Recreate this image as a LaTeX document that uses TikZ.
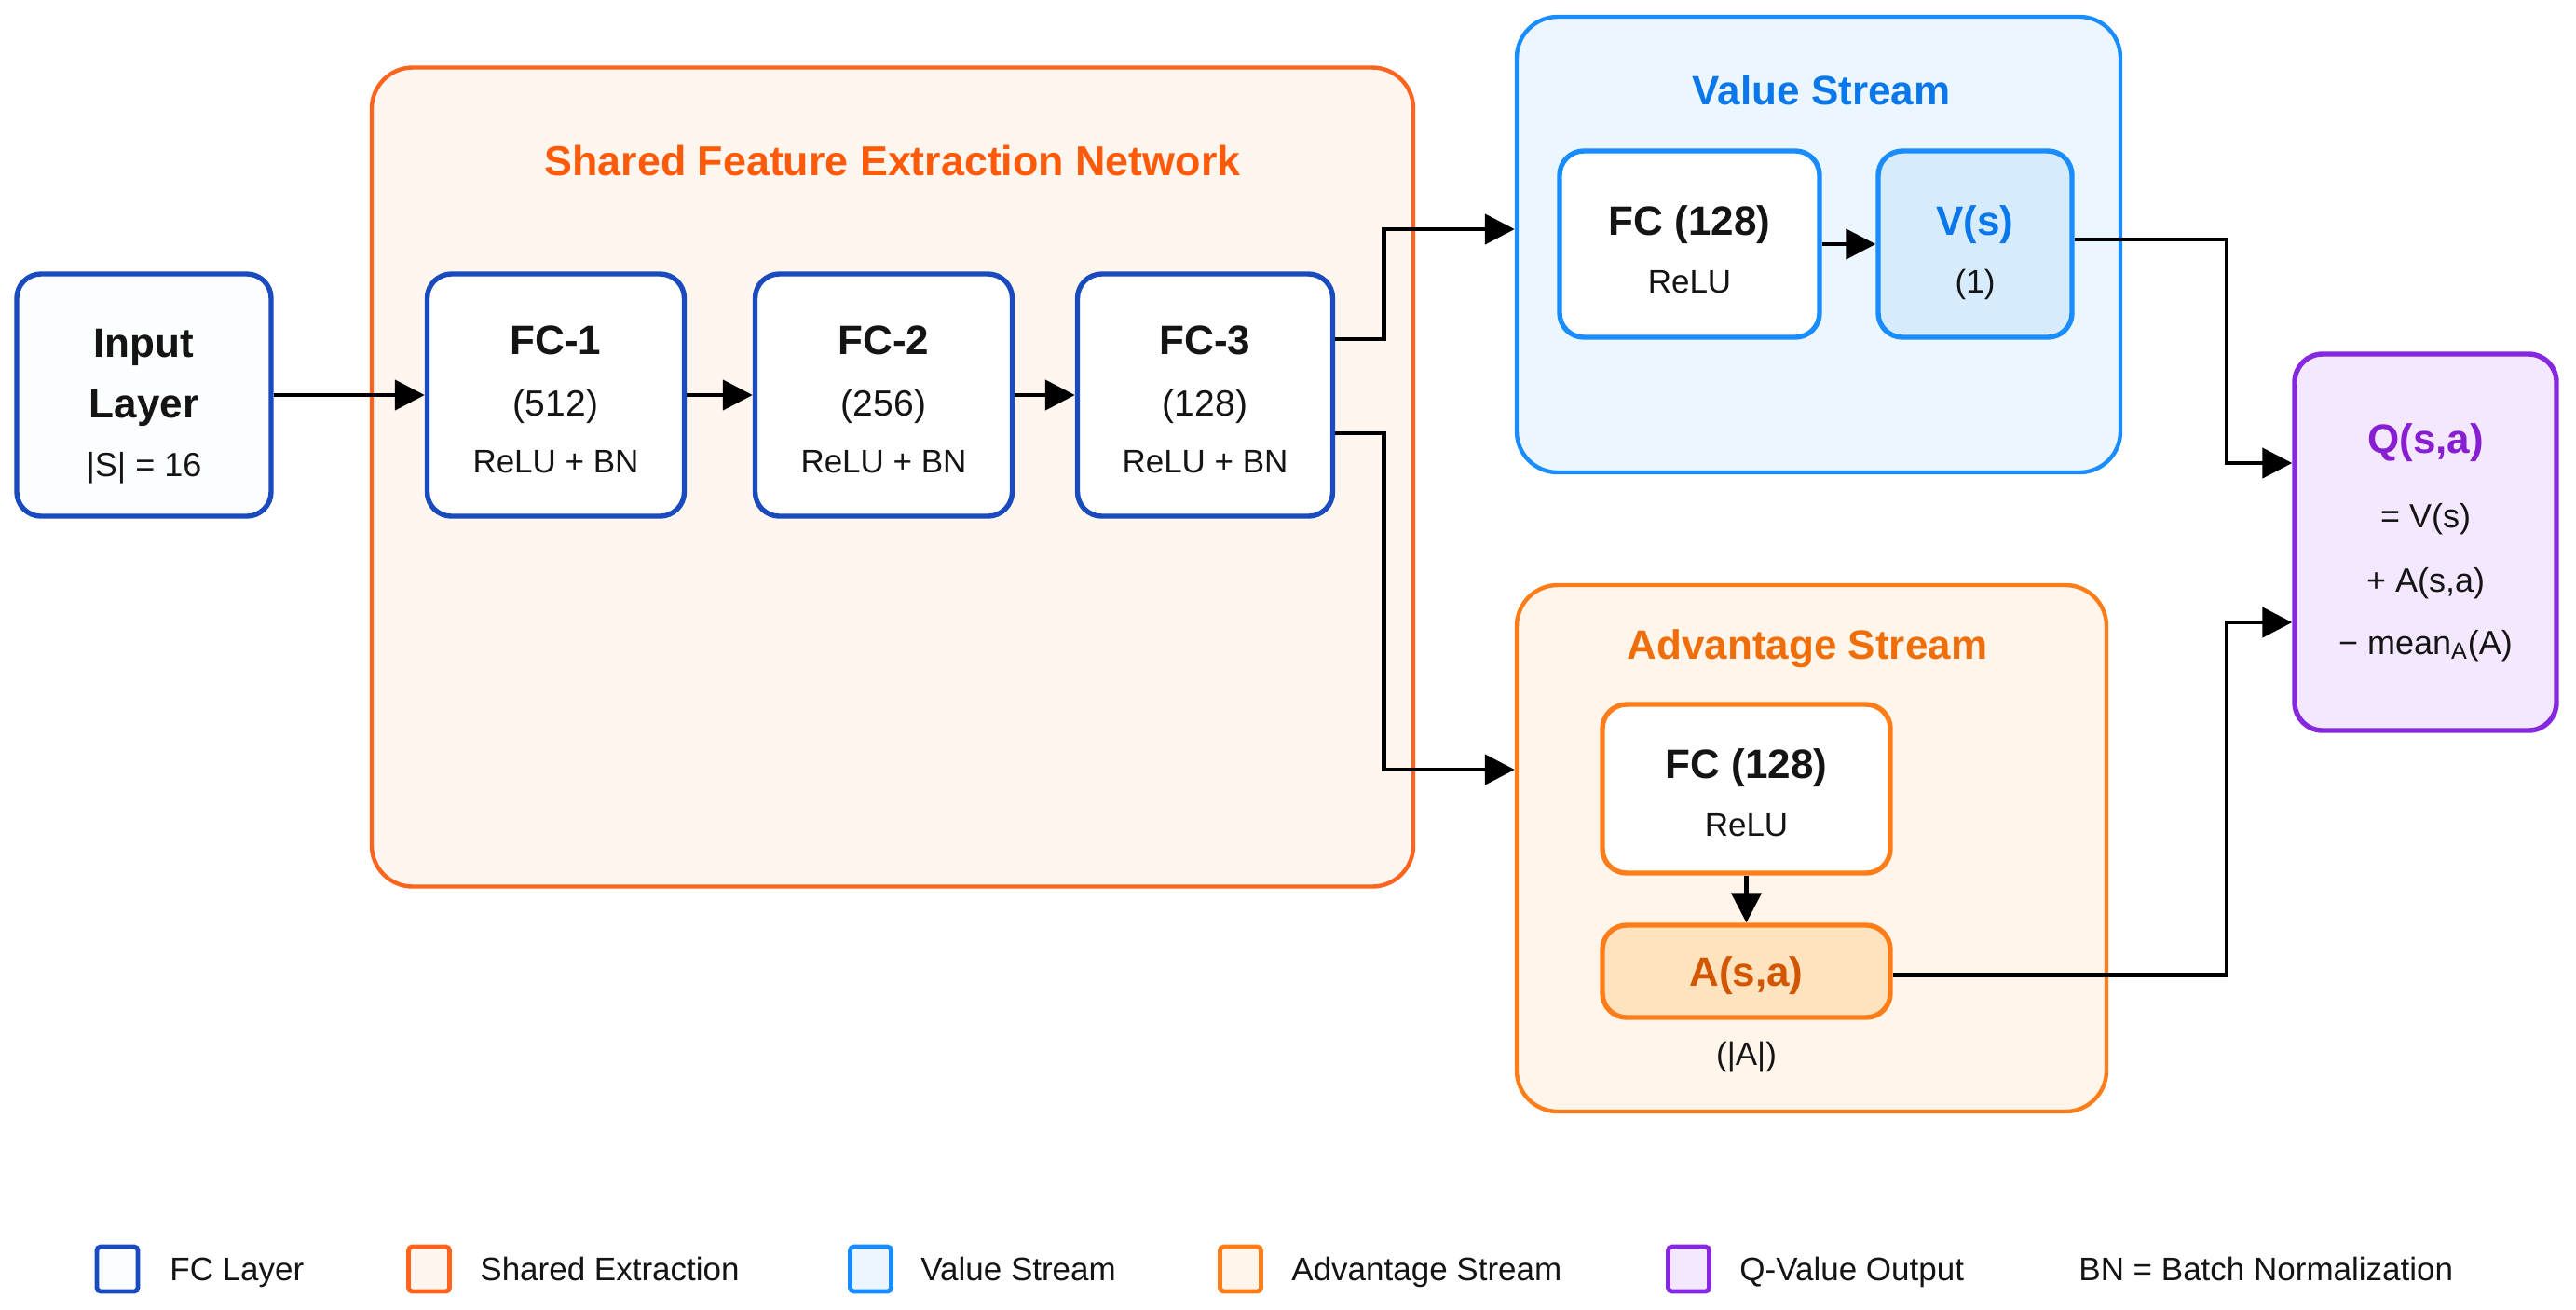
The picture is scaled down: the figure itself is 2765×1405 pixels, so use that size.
\documentclass[tikz,border=0pt]{standalone}
\usepackage{fontspec}
\setmainfont{Liberation Sans}
\usetikzlibrary{arrows.meta}
\definecolor{fcblue}{RGB}{25,75,190}
\definecolor{txt}{RGB}{20,20,20}
\definecolor{shor}{RGB}{255,100,30}
\definecolor{shfill}{RGB}{255,246,240}
\definecolor{shtitle}{RGB}{255,90,10}
\definecolor{vblue}{RGB}{25,140,255}
\definecolor{vfill}{RGB}{236,246,255}
\definecolor{vtitle}{RGB}{10,120,235}
\definecolor{vsfill}{RGB}{214,236,252}
\definecolor{aor}{RGB}{255,125,25}
\definecolor{afill}{RGB}{255,245,235}
\definecolor{atitle}{RGB}{240,110,10}
\definecolor{aafill}{RGB}{255,226,190}
\definecolor{aatext}{RGB}{210,85,0}
\definecolor{qpur}{RGB}{135,40,225}
\definecolor{qfill}{RGB}{243,232,255}
\definecolor{qtext}{RGB}{135,30,210}
\definecolor{infill}{RGB}{252,253,255}
\begin{document}
\begin{tikzpicture}[x=0.5pt,y=-0.5pt,
  container/.style={draw, line width=2.2pt, rounded corners=22pt, inner sep=0pt},
  box/.style={draw, line width=2.7pt, rounded corners=13pt, inner sep=0pt},
  bt/.style={font=\fontsize{22}{26}\selectfont\bfseries, anchor=base, inner sep=0pt, text=txt},
  nt/.style={font=\fontsize{19.5}{23}\selectfont, anchor=base, inner sep=0pt, text=txt},
  rt/.style={font=\fontsize{17.5}{21}\selectfont, anchor=base, inner sep=0pt, text=txt},
  arr/.style={line width=2.3pt, draw=black, -{Triangle[length=16pt,width=16pt]}},
  legsq/.style={draw, line width=2.4pt, rounded corners=2pt, minimum width=22pt, minimum height=24pt, inner sep=0pt}
]
\useasboundingbox (0,0) rectangle (2765,1405);
\fill[white] (0,0) rectangle (2765,1405);

% containers
\node[container, draw=shor, fill=shfill, minimum width=559pt, minimum height=439.5pt] (shared) at (958,512) {};
\node[bt, text=shtitle, font=\fontsize{22.4}{26}\selectfont\bfseries] (sharedt) at (958,188) {Shared Feature Extraction Network};

\node[container, draw=vblue, fill=vfill, minimum width=324pt, minimum height=244.5pt] (vbox) at (1952,262.5) {};
\node[bt, text=vtitle] (vboxt) at (1955,112) {Value Stream};

\node[container, draw=aor, fill=afill, minimum width=316.5pt, minimum height=282.5pt] (abox) at (1944.5,910.5) {};
\node[bt, text=atitle] (aboxt) at (1940,707) {Advantage Stream};

% input
\node[box, draw=fcblue, fill=infill, minimum width=136.5pt, minimum height=130pt] (inp) at (154.5,424) {};
\node[bt] (inp1) at (154.5,383) {Input};
\node[bt] (inp2) at (154.5,448) {Layer};
\node[rt, font=\fontsize{18}{21}\selectfont] (inp3) at (154.5,511) {|S| = 16};

% FC layers
\node[box, draw=fcblue, fill=white, minimum width=138pt, minimum height=130pt] (fc1) at (596.5,424) {};
\node[bt] (fc1a) at (596.5,380) {FC-1};
\node[nt] (fc1b) at (596.5,446) {(512)};
\node[rt] (fc1c) at (596.5,507.5) {ReLU + BN};

\node[box, draw=fcblue, fill=white, minimum width=138pt, minimum height=130pt] (fc2) at (948.5,424) {};
\node[bt] (fc2a) at (948.5,380) {FC-2};
\node[nt] (fc2b) at (948.5,446) {(256)};
\node[rt] (fc2c) at (948.5,507.5) {ReLU + BN};

\node[box, draw=fcblue, fill=white, minimum width=137pt, minimum height=130pt] (fc3) at (1293.5,424) {};
\node[bt] (fc3a) at (1293.5,380) {FC-3};
\node[nt] (fc3b) at (1293.5,446) {(128)};
\node[rt] (fc3c) at (1293.5,507.5) {ReLU + BN};

% value stream
\node[box, draw=vblue, fill=white, minimum width=139.5pt, minimum height=100pt] (vfc) at (1813.5,262) {};
\node[bt] (vfca) at (1813.5,252) {FC (128)};
\node[rt] (vfcb) at (1813.5,314.5) {ReLU};

\node[box, draw=vblue, fill=vsfill, minimum width=104pt, minimum height=100pt] (vs) at (2120,262) {};
\node[bt, text=vtitle] (vsa) at (2120,252) {V(s)};
\node[rt] (vsb) at (2120,314.5) {(1)};

% advantage stream
\node[box, draw=aor, fill=white, minimum width=154.5pt, minimum height=90.5pt] (afc) at (1874.5,846.5) {};
\node[bt] (afca) at (1874.5,835) {FC (128)};
\node[rt] (afcb) at (1874.5,897.5) {ReLU};

\node[box, draw=aor, fill=aafill, minimum width=154.5pt, minimum height=49.5pt] (aa) at (1874.5,1042.5) {};
\node[bt, text=aatext] (aaa) at (1874.5,1058) {A(s,a)};
\node[rt] (aab) at (1874.5,1143) {(|A|)};

% Q output
\node[box, draw=qpur, fill=qfill, minimum width=140.5pt, minimum height=202pt, rounded corners=15pt] (q) at (2603.5,582) {};
\node[bt, text=qtext] (qa) at (2603.5,486) {Q(s,a)};
\node[rt, font=\fontsize{18}{21}\selectfont] (qb) at (2603.5,566) {= V(s)};
\node[rt, font=\fontsize{18}{21}\selectfont] (qc) at (2603.5,635) {+ A(s,a)};
\node[rt, font=\fontsize{18}{21}\selectfont] (qd) at (2603.5,702) {− mean\textsubscript{A}(A)};

% connectors
\draw[arr] (inp.east) -- (fc1.west);
\draw[arr] (fc1.east) -- (fc2.west);
\draw[arr] (fc2.east) -- (fc3.west);
\draw[arr] ([yshift=30pt]fc3.east) -- ++(26pt,0) |- (vbox.west |- {(0,246)});
\draw[arr] ([yshift=-20.5pt]fc3.east) -- ++(26pt,0) |- (abox.west |- {(0,826)});
\draw[arr] (vfc.east) -- (vs.west);
\draw[arr] (afc.south) -- (aa.north);
\draw[arr] ([yshift=2.5pt]vs.east) -| (2390,497) -- (q.west |- {(0,497)});
\draw[arr] ([yshift=-2pt]aa.east) -| (2390,668) -- (q.west |- {(0,668)});

% legend
\node[legsq, draw=fcblue, fill=infill] (lg1) at (126,1362) {};
\node[rt, anchor=base west] (lg1t) at (182,1374) {FC Layer};
\node[legsq, draw=shor, fill=shfill] (lg2) at (460.5,1362) {};
\node[rt, anchor=base west] (lg2t) at (515,1374) {Shared Extraction};
\node[legsq, draw=vblue, fill=vfill] (lg3) at (934.5,1362) {};
\node[rt, anchor=base west] (lg3t) at (988,1374) {Value Stream};
\node[legsq, draw=aor, fill=afill] (lg4) at (1331.5,1362) {};
\node[rt, anchor=base west] (lg4t) at (1386,1374) {Advantage Stream};
\node[legsq, draw=qpur, fill=qfill] (lg5) at (1812.5,1362) {};
\node[rt, anchor=base west] (lg5t) at (1867,1374) {Q-Value Output};
\node[rt, anchor=base west] (lg6t) at (2231,1374) {BN = Batch Normalization};
\end{tikzpicture}
\end{document}
